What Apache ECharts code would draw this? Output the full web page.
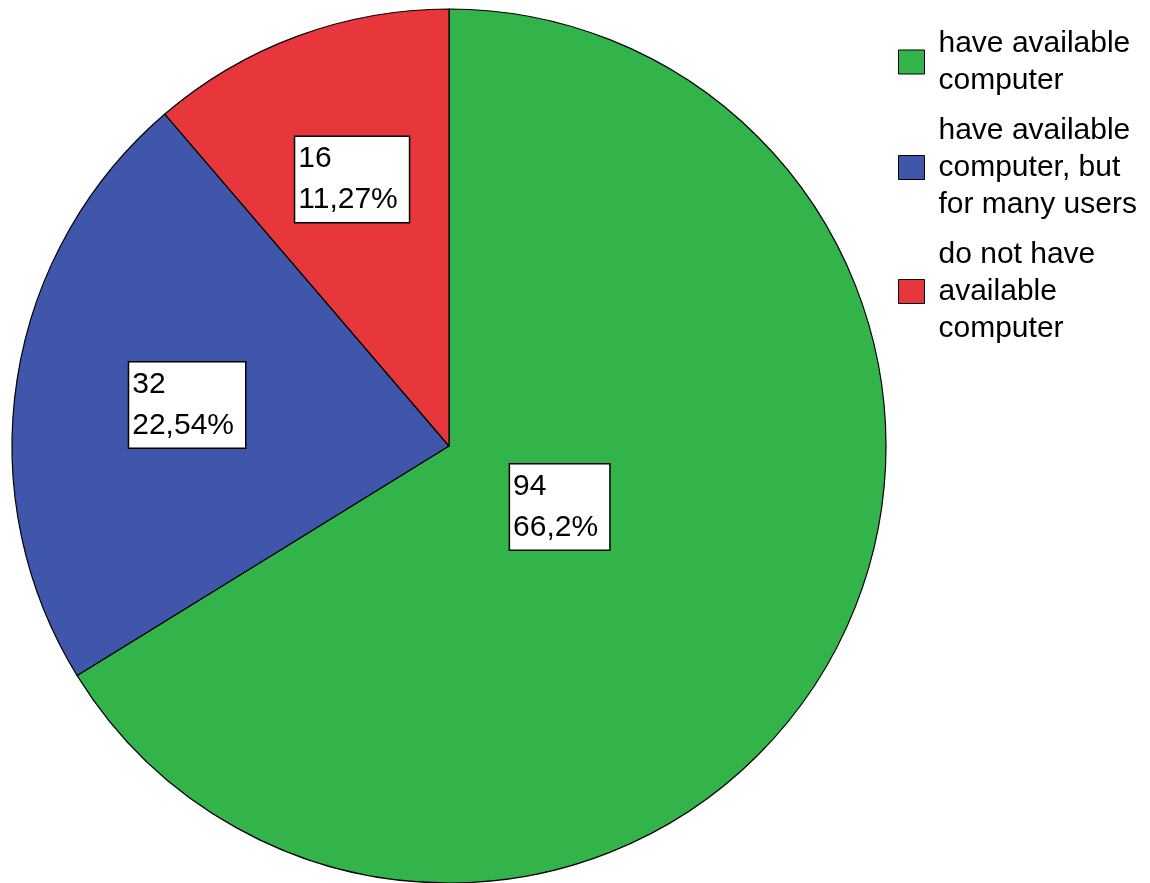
<!DOCTYPE html>
<html>
<head>
<meta charset="utf-8">
<script src="https://cdn.jsdelivr.net/npm/echarts@6/dist/echarts.min.js"></script>
<style>
html,body{margin:0;padding:0;background:#fff;}
#chart{width:1150px;height:883px;}
</style>
</head>
<body>
<div id="chart"></div>
<script>
// ---- data ----
const categories = [
  'have available computer',
  'have available computer, but for many users',
  'do not have available computer'
];
const counts = [94, 32, 16];
const colors = ['#33b44a', '#3f56aa', '#e7373c'];

// ---- styling / layout constants ----
const PIE_CX = 449, PIE_CY = 446, PIE_R = 437;
const labelRadiusFactor = [0.286, 0.61, 0.65]; // fraction of radius for each label box centre
const LABEL_SHIFT_X = 3;
const FONT = '"Liberation Sans", Arial, sans-serif';

const total = counts.reduce(function (a, b) { return a + b; }, 0);
function pctText(v) {
  const p = Math.round(v / total * 10000) / 100;
  return String(p).replace('.', ',') + '%';
}
function midAngle(i) {
  let cum = 0;
  for (let j = 0; j < i; j++) cum += counts[j];
  return (cum + counts[i] / 2) / total * Math.PI * 2; // clockwise from 12 o'clock
}

const chart = echarts.init(document.getElementById('chart'), null, {renderer: 'canvas'});

chart.setOption({
  animation: false,
  backgroundColor: '#ffffff',
  legend: {
    orient: 'vertical',
    left: 898,
    top: 25,
    padding: 0,
    itemGap: 13,
    itemWidth: 26,
    itemHeight: 24,
    icon: 'rect',
    itemStyle: {borderColor: '#000', borderWidth: 1},
    selectedMode: false,
    textStyle: {
      fontFamily: FONT,
      fontSize: 30,
      color: '#000',
      lineHeight: 37,
      width: 210,
      overflow: 'break',
      padding: [0, 0, 0, 9]
    },
    data: categories
  },
  series: [{
    type: 'pie',
    center: [PIE_CX, PIE_CY],
    radius: [0, PIE_R],
    startAngle: 90,
    clockwise: true,
    avoidLabelOverlap: false,
    itemStyle: {borderColor: '#000', borderWidth: 1.2},
    emphasis: {disabled: true},
    label: {
      show: true,
      position: 'inside',
      fontFamily: FONT,
      fontSize: 30,
      color: '#000',
      lineHeight: 41,
      backgroundColor: '#fff',
      borderColor: '#000',
      borderWidth: 1.5,
      padding: [2, 11, 1, 3],
      formatter: function (p) {
        return p.value + '\n' + pctText(p.value);
      }
    },
    labelLine: {show: false},
    labelLayout: function (p) {
      const r = p.labelRect;
      const a = midAngle(p.dataIndex);
      const d = labelRadiusFactor[p.dataIndex] * PIE_R;
      const tx = PIE_CX + Math.sin(a) * d;
      const ty = PIE_CY - Math.cos(a) * d;
      return {x: tx - r.width / 2 + LABEL_SHIFT_X, y: ty, align: 'left', verticalAlign: 'middle'};
    },
    data: categories.map(function (name, i) {
      return {name: name, value: counts[i], itemStyle: {color: colors[i]}};
    })
  }]
});
</script>
</body>
</html>
